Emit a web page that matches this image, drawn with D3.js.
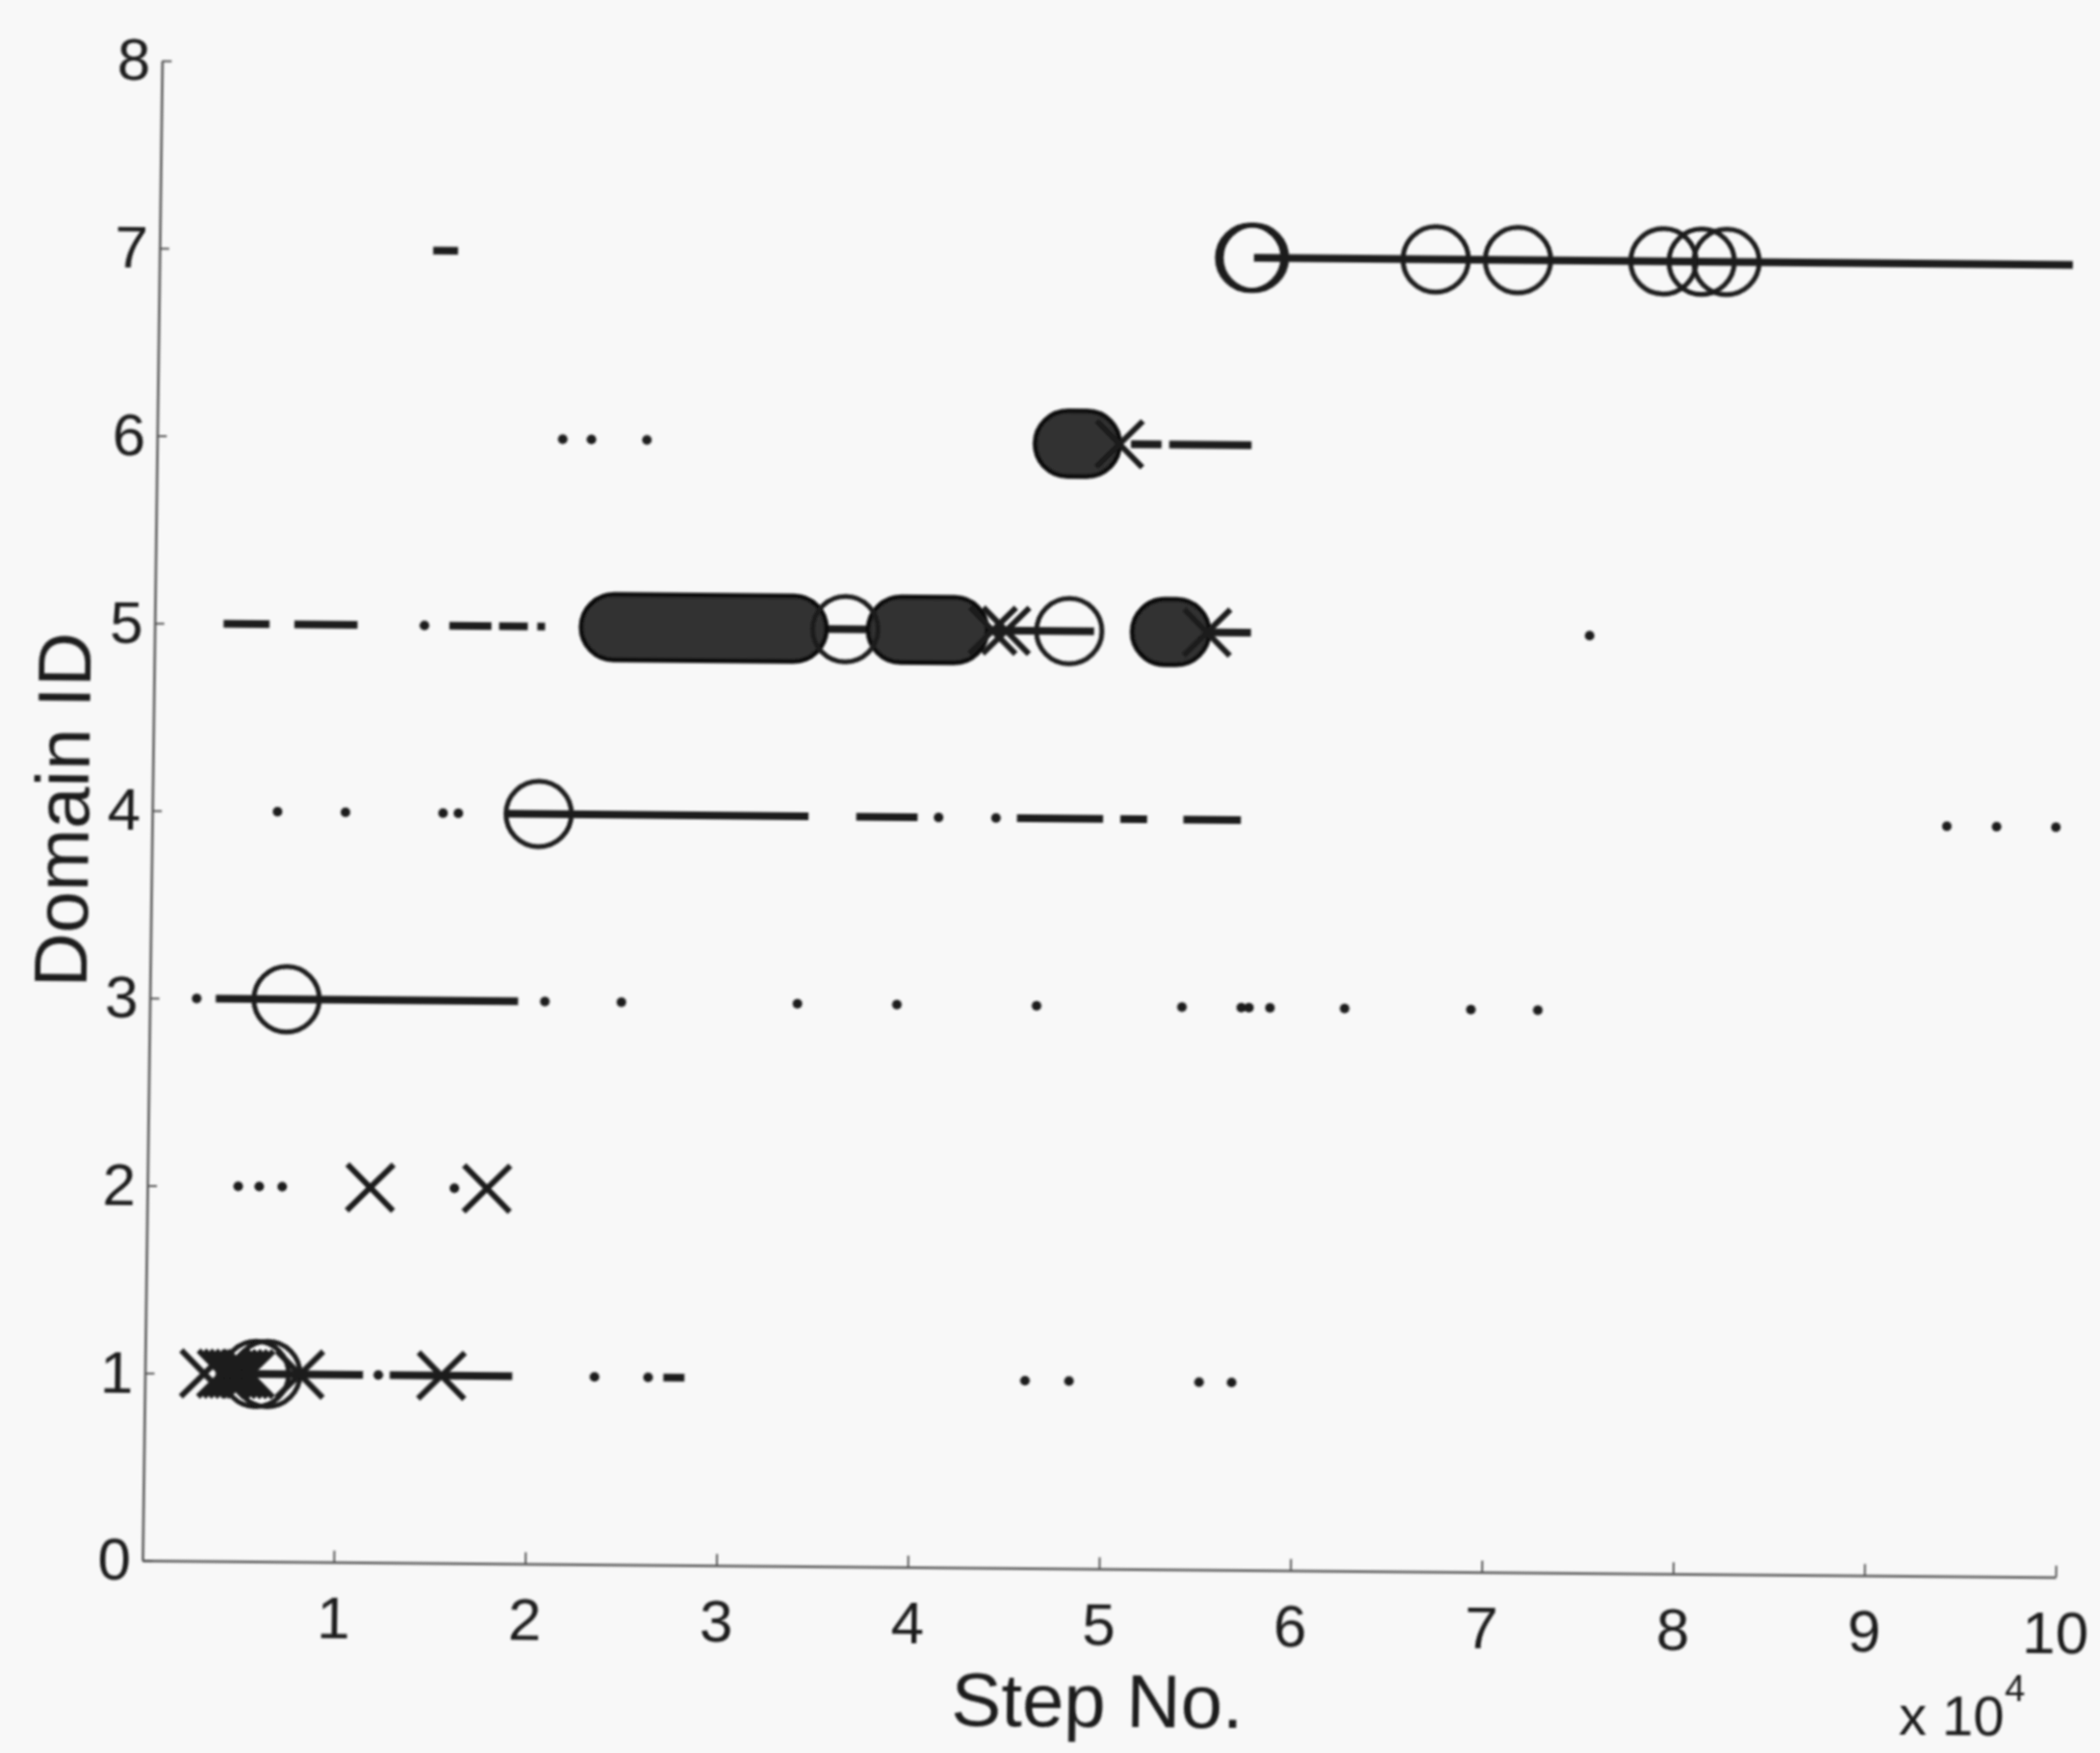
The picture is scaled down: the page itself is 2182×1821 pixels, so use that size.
<!DOCTYPE html>
<html>
<head>
<meta charset="utf-8">
<script src="https://cdn.jsdelivr.net/npm/d3@7"></script>
<style>
body { margin: 0; background: #f8f8f8; }
text { font-family: "Liberation Sans", Arial, sans-serif; fill: #1a1a1a; }
</style>
</head>
<body>
<div id="chart"></div>
<script>
// steps are in units of 10^4
let xTicks = [1, 2, 3, 4, 5, 6, 7, 8, 9, 10];
let yTicks = [0, 1, 2, 3, 4, 5, 6, 7, 8];

// [step, domain]
let dots = [
    [0.655, 4], [1.01, 4], [1.52, 4], [1.60, 4], [4.11, 4], [4.41, 4],
    [9.38, 4], [9.64, 4], [9.95, 4],
    [2.12, 6], [2.27, 6], [2.56, 6],
    [1.41, 5], [7.50, 5],
    [0.245, 3], [2.065, 3], [2.465, 3], [3.385, 3], [3.905, 3], [4.635, 3],
    [5.395, 3], [5.705, 3], [5.745, 3], [5.855, 3], [6.245, 3], [6.905, 3], [7.255, 3],
    [0.475, 2], [0.585, 2], [0.705, 2], [1.605, 2],
    [1.22, 1], [2.35, 1], [2.63, 1], [4.60, 1], [4.83, 1], [5.51, 1], [5.68, 1]
];

// [start, end, domain]
let segments = [
    [1.43, 1.56, 7], [5.72, 10.0, 7],
    [5.09, 5.25, 6], [5.29, 5.72, 6],
    [0.36, 0.60, 5], [0.73, 1.06, 5], [1.54, 1.76, 5], [1.80, 1.95, 5], [2.00, 2.04, 5],
    [2.40, 4.91, 5], [5.33, 5.73, 5],
    [1.85, 3.43, 4], [3.68, 4.00, 4], [4.52, 4.97, 4], [5.06, 5.20, 4], [5.39, 5.69, 4],
    [0.345, 1.925, 3],
    [0.37, 1.14, 1], [1.28, 1.92, 1], [2.71, 2.82, 1]
];

// runs of overlapping circle markers: [first, last, domain]
let blobs = [
    [4.76, 4.86, 6],
    [2.40, 3.34, 5], [3.90, 4.18, 5], [5.28, 5.34, 5]
];

let circles = [
    [5.70, 7], [5.72, 7], [6.67, 7], [7.10, 7], [7.86, 7], [8.06, 7], [8.19, 7],
    [3.61, 5], [4.78, 5],
    [2.02, 4],
    [0.715, 3],
    [0.58, 1], [0.64, 1]
];

let crosses = [
    [5.03, 6],
    [4.38, 5], [4.45, 5], [5.50, 5],
    [1.165, 2], [1.775, 2],
    [0.31, 1], [0.40, 1], [0.43, 1], [0.46, 1], [0.49, 1], [0.52, 1], [0.55, 1],
    [0.81, 1], [1.55, 1]
];

let width = 2182;
let height = 1821;
let ink = '#1a1a1a';

let x = d3.scaleLinear().domain([0, 10]).range([148, 2136]);
let y = d3.scaleLinear().domain([0, 8]).range([1621, 63]);

let svg = d3.select('#chart').append('svg')
            .attr('width', width)
            .attr('height', height);

svg.append('rect')
    .attr('width', width)
    .attr('height', height)
    .attr('fill', '#f8f8f8');

svg.append('defs').append('filter')
    .attr('id', 'soft')
    .append('feGaussianBlur')
    .attr('stdDeviation', 1.1);

// the scan is slightly tilted / sheared
let g = svg.append('g')
            .attr('transform', 'translate(148,1621) rotate(0.5) skewX(-0.25) translate(-148,-1621)')
            .attr('filter', 'url(#soft)');

// axes
let yAxis = g.append('g')
    .attr('transform', 'translate(148,0)')
    .call(d3.axisLeft(y).tickValues(yTicks).tickSizeInner(-10).tickSizeOuter(0).tickPadding(12));

let xAxis = g.append('g')
    .attr('transform', 'translate(0,1621)')
    .call(d3.axisBottom(x).tickValues(xTicks).tickSizeInner(-12).tickSizeOuter(0).tickPadding(35));

[yAxis, xAxis].forEach(a => {
    a.attr('font-family', null).attr('font-size', null);
    a.select('.domain').attr('stroke', '#555').attr('stroke-width', 2.5);
    a.selectAll('.tick line').attr('stroke', '#555').attr('stroke-width', 2);
    a.selectAll('.tick text')
        .attr('fill', ink)
        .style('font-size', '62px');
});

// data
g.selectAll('line.seg')
    .data(segments)
    .join('line')
    .attr('class', 'seg')
    .attr('x1', d => x(d[0]))
    .attr('x2', d => x(d[1]))
    .attr('y1', d => y(d[2]))
    .attr('y2', d => y(d[2]))
    .attr('stroke', ink)
    .attr('stroke-width', 8);

g.selectAll('circle.dot')
    .data(dots)
    .join('circle')
    .attr('class', 'dot')
    .attr('cx', d => x(d[0]))
    .attr('cy', d => y(d[1]))
    .attr('r', 5)
    .attr('fill', ink);

let r = 34;

g.selectAll('rect.blob')
    .data(blobs)
    .join('rect')
    .attr('class', 'blob')
    .attr('x', d => x(d[0]) - r)
    .attr('width', d => x(d[1]) - x(d[0]) + 2 * r)
    .attr('y', d => y(d[2]) - r)
    .attr('height', 2 * r)
    .attr('rx', r)
    .attr('fill', '#333')
    .attr('stroke', '#111')
    .attr('stroke-width', 5);

g.selectAll('circle.mark')
    .data(circles)
    .join('circle')
    .attr('class', 'mark')
    .attr('cx', d => x(d[0]))
    .attr('cy', d => y(d[1]))
    .attr('r', r)
    .attr('fill', 'none')
    .attr('stroke', ink)
    .attr('stroke-width', 5);

let s = 24;
g.selectAll('path.cross')
    .data(crosses)
    .join('path')
    .attr('class', 'cross')
    .attr('d', d => {
        let cx = x(d[0]), cy = y(d[1]);
        return `M${cx - s},${cy - s}L${cx + s},${cy + s}M${cx - s},${cy + s}L${cx + s},${cy - s}`;
    })
    .attr('stroke', ink)
    .attr('stroke-width', 6)
    .attr('fill', 'none');

// labels
g.append('text')
    .attr('x', x(5))
    .attr('y', 1785)
    .attr('text-anchor', 'middle')
    .style('font-size', '78px')
    .text('Step No.');

g.append('text')
    .attr('transform', `translate(82,${y(4)}) rotate(-90)`)
    .attr('text-anchor', 'middle')
    .style('font-size', '78px')
    .text('Domain ID');

let mult = g.append('text')
    .attr('x', 1975)
    .attr('y', 1786)
    .style('font-size', '58px');
mult.append('tspan').text('x 10');
mult.append('tspan')
    .attr('dy', -36)
    .style('font-size', '38px')
    .text('4');
</script>
</body>
</html>
